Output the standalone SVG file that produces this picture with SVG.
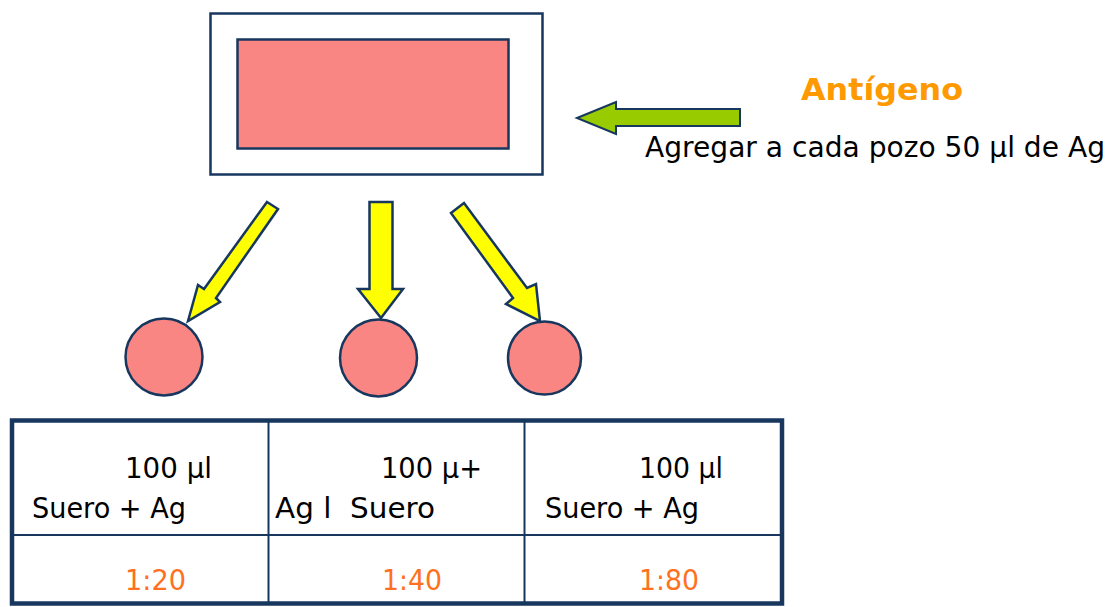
<svg xmlns="http://www.w3.org/2000/svg" width="1111" height="607" viewBox="0 0 1111 607">
<style>
.ln{stroke:#17375E;stroke-width:2.5;stroke-linejoin:miter}
.pink{fill:#F98682}
.yel{fill:#FFFF00;stroke:#17375E;stroke-width:2.5;stroke-linejoin:miter}
.t{font-family:"DejaVu Sans","Liberation Sans",sans-serif;font-size:28px;fill:#000;white-space:pre}
.r{font-family:"DejaVu Sans","Liberation Sans",sans-serif;font-size:28px;fill:#FF7020}
</style>
<rect width="1111" height="607" fill="#fff"/>
<g id="plate">
<rect x="210.5" y="13.5" width="332" height="161" fill="#fff" class="ln"/>
<rect x="237.5" y="39.5" width="271" height="109" class="pink ln"/>
</g>
<g id="antigen">
<text x="801" y="100" textLength="162" lengthAdjust="spacingAndGlyphs" style="font-family:'DejaVu Sans','Liberation Sans',sans-serif;font-size:31px;font-weight:bold;fill:#FF9900">Antígeno</text>
<text class="t" x="645" y="157" textLength="460" lengthAdjust="spacingAndGlyphs">Agregar a cada pozo 50 μl de Ag</text>
</g>
<g id="connectors">
<polygon points="577,118 616,102 616,109 740,109 740,126 616,126 616,134" fill="#99CC00" stroke="#17375E" stroke-width="2"/>
<polygon class="yel" points="267,202 278,209 216,298 220,302 188,321 198,285 204,289"/>
<polygon class="yel" points="369.5,202 392.5,202 392.5,289 403,289 381,318 358,289 369.5,289"/>
<polygon class="yel" points="451,213 464,203 527,288 536,284 540,321 506,304 513,298"/>
</g>
<g id="well1"><circle cx="164" cy="357" r="38.5" class="pink ln"/></g>
<g id="well2"><circle cx="378.5" cy="358" r="38.5" class="pink ln"/></g>
<g id="well3"><circle cx="544.5" cy="358" r="36.5" class="pink ln"/></g>
<g id="table">
<rect x="12" y="420.5" width="770" height="183" fill="#fff" stroke="#17375E" stroke-width="4.5"/>
<line x1="268.5" y1="420" x2="268.5" y2="604" stroke="#17375E" stroke-width="2"/>
<line x1="524.5" y1="420" x2="524.5" y2="604" stroke="#17375E" stroke-width="2"/>
<line x1="12" y1="535" x2="782" y2="535" stroke="#17375E" stroke-width="2"/>
<text class="t" x="125" y="478" textLength="87" lengthAdjust="spacingAndGlyphs">100 μl</text>
<text class="t" x="32" y="518" textLength="154" lengthAdjust="spacingAndGlyphs">Suero + Ag</text>
<text class="t" x="381" y="478" textLength="101" lengthAdjust="spacingAndGlyphs">100 μ+</text>
<text class="t" x="275" y="518" textLength="160" lengthAdjust="spacingAndGlyphs" xml:space="preserve">Ag l  Suero</text>
<text class="t" x="639" y="478" textLength="84" lengthAdjust="spacingAndGlyphs">100 μl</text>
<text class="t" x="545" y="518" textLength="154" lengthAdjust="spacingAndGlyphs">Suero + Ag</text>
<text class="r" x="125" y="590" textLength="61" lengthAdjust="spacingAndGlyphs">1:20</text>
<text class="r" x="382" y="590" textLength="60" lengthAdjust="spacingAndGlyphs">1:40</text>
<text class="r" x="639" y="590" textLength="60" lengthAdjust="spacingAndGlyphs">1:80</text>
</g>
</svg>
